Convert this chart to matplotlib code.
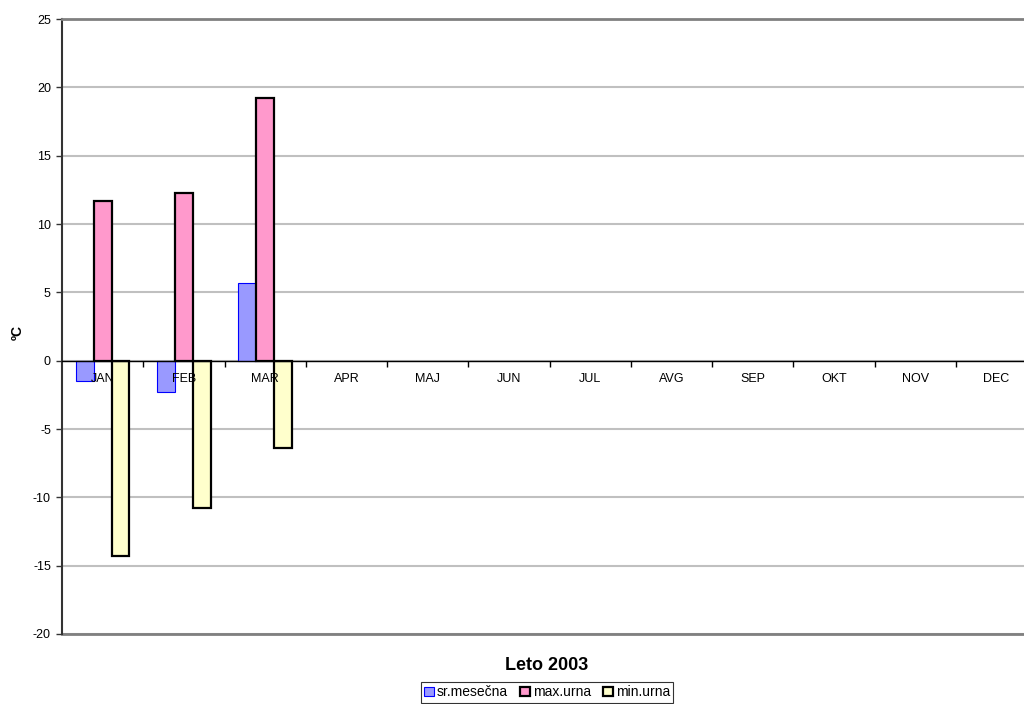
import numpy as np
import matplotlib.pyplot as plt
from matplotlib.ticker import MultipleLocator

plt.rcParams['font.family'] = ['Liberation Sans', 'DejaVu Sans']
plt.rcParams['axes.unicode_minus'] = False

# Monthly temperatures, Leto 2003 (only Jan-Mar available)
months = ['JAN', 'FEB', 'MAR', 'APR', 'MAJ', 'JUN', 'JUL', 'AVG', 'SEP', 'OKT', 'NOV', 'DEC']
sr_mesecna = [-1.5, -2.3, 5.7]
max_urna = [11.7, 12.3, 19.2]
min_urna = [-14.3, -10.75, -6.4]

fig = plt.figure(figsize=(10.24, 7.04), dpi=100)
ax = fig.add_axes([62 / 1024, 70 / 704, (1037 - 62) / 1024, (634 - 19) / 704])

x = np.arange(len(months))
w = 0.22
n = len(sr_mesecna)
ax.bar(x[:n] - w, sr_mesecna, w, color='#9999FF', edgecolor='#0000FF', linewidth=0.8, label='sr.mesečna', zorder=3)
ax.bar(x[:n], max_urna, w, color='#FF99CC', edgecolor='black', linewidth=1.6, label='max.urna', zorder=3)
ax.bar(x[:n] + w, min_urna, w, color='#FFFFCC', edgecolor='black', linewidth=1.6, label='min.urna', zorder=3)

ax.set_xlim(-0.5, len(months) - 0.5)
ax.set_ylim(-20, 25)
ax.yaxis.set_major_locator(MultipleLocator(5))
ax.grid(axis='y', color='#c0c0c0', linewidth=1.5)
ax.yaxis.set_zorder(0.5)
ax.xaxis.set_zorder(5)
ax.axhline(-20, color='#808080', linewidth=2, zorder=1, clip_on=False)

# category axis crosses at zero
ax.spines['bottom'].set_position(('data', 0))
ax.spines['bottom'].set_color('black')
ax.spines['bottom'].set_linewidth(1)
ax.spines['bottom'].set_zorder(4)
ax.spines['right'].set_visible(False)
ax.spines['top'].set_color('#808080')
ax.spines['top'].set_linewidth(2)
ax.spines['left'].set_color('#333333')
ax.spines['left'].set_linewidth(1.5)

ax.set_xticks(x)
ax.set_xticklabels(months, fontsize=9)
ax.set_xticks(x[:-1] + 0.5, minor=True)
ax.tick_params(axis='x', which='major', length=0, pad=9)
ax.tick_params(axis='x', which='minor', length=4, width=1, direction='out')
ax.tick_params(axis='y', length=4, width=1, labelsize=9, direction='out', color='#333333', pad=4)

fig.text(18 / 1024, 1 - 332 / 704, 'ºC', rotation=90, fontsize=10, fontweight='bold', ha='center', va='center')
fig.text(547 / 1024, 1 - 665 / 704, 'Leto 2003', fontsize=13, fontweight='bold', ha='center', va='center')

leg = fig.legend(loc='upper center', bbox_to_anchor=(547 / 1024, 1 - 682 / 704), ncol=3, fontsize=10,
                 frameon=True, fancybox=False, edgecolor='black', handlelength=0.7, handleheight=0.7,
                 handletextpad=0.2, columnspacing=0.9, borderpad=0.25, borderaxespad=0)
leg.get_frame().set_linewidth(0.8)

fig.savefig('out.png', dpi=100)
